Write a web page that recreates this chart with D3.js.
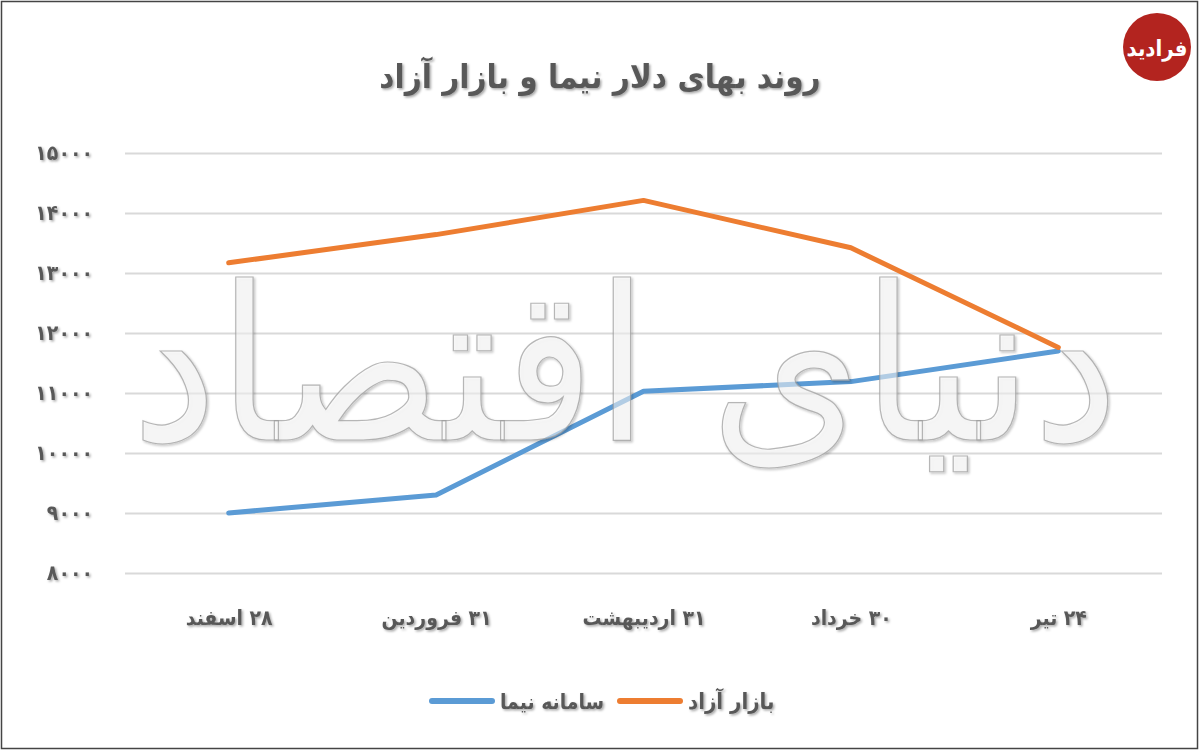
<!DOCTYPE html>
<html>
<head>
<meta charset="utf-8">
<script src="https://cdn.jsdelivr.net/npm/d3@7"></script>
<style>
  body { margin: 0; background: #fff; }
  svg { display: block; }
  text { font-family: "DejaVu Sans Condensed", "DejaVu Sans", sans-serif; }
</style>
</head>
<body>
<svg id="chart" width="1200" height="751"></svg>
<script>
// data
const titleText = "روند بهای دلار نیما و بازار آزاد";
const dates = ["۲۸ اسفند", "۳۱ فروردین", "۳۱ اردیبهشت", "۳۰ خرداد", "۲۴ تیر"];
const seriesNames = ["سامانه نیما", "بازار آزاد"];
const nimaValues = [9000, 9300, 11030, 11190, 11700];
const freeMarketValues = [13170, 13640, 14210, 13420, 11760];
const yTicks = [8000, 9000, 10000, 11000, 12000, 13000, 14000, 15000];
const watermarkText = "دنیای اقتصاد";
const logoText = "فرادید";

const colors = ["#5b9bd5", "#ed7d31"];
const faDigits = "۰۱۲۳۴۵۶۷۸۹";
function toFa(n) {
  return String(n).replace(/\d/g, function (d) { return faDigits[d]; });
}

var svg = d3.select("#chart");

var defs = svg.append("defs");
var shadow = defs.append("filter").attr("id", "shadow").attr("x", "-10%").attr("y", "-10%")
  .attr("width", "130%").attr("height", "130%");
shadow.append("feDropShadow").attr("dx", 1.5).attr("dy", 1.5).attr("stdDeviation", 1)
  .attr("flood-color", "#000").attr("flood-opacity", 0.35);

// frame
svg.append("rect")
  .attr("x", 1.5).attr("y", 1.5).attr("width", 1196).attr("height", 747)
  .attr("fill", "#fff").attr("stroke", "#444").attr("stroke-width", 1.5);

var x = d3.scalePoint().domain(dates).range([125, 1162]).padding(0.5);
var y = d3.scaleLinear().domain([8000, 15000]).range([573, 153]);

// y axis + gridlines
var yAxis = svg.append("g")
  .attr("transform", "translate(125,0)")
  .call(d3.axisLeft(y).tickValues(yTicks).tickSize(-1037).tickPadding(32).tickFormat(toFa));
yAxis.select(".domain").remove();
yAxis.selectAll(".tick line").attr("stroke", "#d9d9d9").attr("stroke-width", 2);
yAxis.selectAll(".tick text")
  .attr("fill", "#595959").attr("font-size", 21).attr("font-weight", "bold")
  .attr("letter-spacing", 4).attr("filter", "url(#shadow)");

// x axis labels
var xAxis = svg.append("g")
  .attr("transform", "translate(0,573)")
  .call(d3.axisBottom(x).tickSize(0).tickPadding(37));
xAxis.select(".domain").remove();
xAxis.selectAll(".tick text")
  .attr("fill", "#595959").attr("font-size", 21).attr("font-weight", "bold")
  .attr("direction", "rtl").attr("filter", "url(#shadow)");

// lines
var line = d3.line()
  .x(function (d, i) { return x(dates[i]); })
  .y(function (d) { return y(d); });

[nimaValues, freeMarketValues].forEach(function (vals, i) {
  svg.append("path")
    .datum(vals)
    .attr("d", line)
    .attr("fill", "none")
    .attr("stroke", colors[i])
    .attr("stroke-width", 5)
    .attr("stroke-linecap", "round")
    .attr("stroke-linejoin", "round");
});

// watermark, semi-transparent over the lines
svg.append("text")
  .attr("x", 625).attr("y", 440)
  .attr("text-anchor", "middle")
  .attr("direction", "rtl")
  .attr("font-family", "DejaVu Sans")
  .attr("font-size", 215)
  .attr("fill", "#fff").attr("fill-opacity", 0.5)
  .attr("stroke", "#9a9a9a").attr("stroke-width", 1.2).attr("stroke-opacity", 0.7)
  .attr("filter", "url(#shadow)")
  .text(watermarkText);

// title
svg.append("text")
  .attr("x", 600).attr("y", 88)
  .attr("text-anchor", "middle")
  .attr("direction", "rtl")
  .attr("font-size", 33).attr("font-weight", "bold")
  .attr("fill", "#595959")
  .attr("filter", "url(#shadow)")
  .text(titleText);

// legend (line to the left of each label)
var legendItems = [
  { name: seriesNames[1], color: colors[1], lineX: 620, size: 22 },
  { name: seriesNames[0], color: colors[0], lineX: 432, size: 21 }
];
var legend = svg.append("g").attr("class", "legend");
legendItems.forEach(function (it) {
  legend.append("line")
    .attr("x1", it.lineX).attr("x2", it.lineX + 60)
    .attr("y1", 701).attr("y2", 701)
    .attr("stroke", it.color).attr("stroke-width", 6).attr("stroke-linecap", "round");
  legend.append("text")
    .attr("x", it.lineX + 68).attr("y", 709)
    .attr("text-anchor", "end").attr("direction", "rtl")
    .attr("font-size", it.size).attr("font-weight", "bold")
    .attr("fill", "#595959").attr("filter", "url(#shadow)")
    .text(it.name);
});

// logo
svg.append("circle").attr("cx", 1157).attr("cy", 47).attr("r", 34).attr("fill", "#b3241f");
svg.append("text")
  .attr("x", 1157).attr("y", 56)
  .attr("text-anchor", "middle").attr("direction", "rtl")
  .attr("font-size", 22).attr("font-weight", "bold")
  .attr("fill", "#fff")
  .text(logoText);
</script>
</body>
</html>
